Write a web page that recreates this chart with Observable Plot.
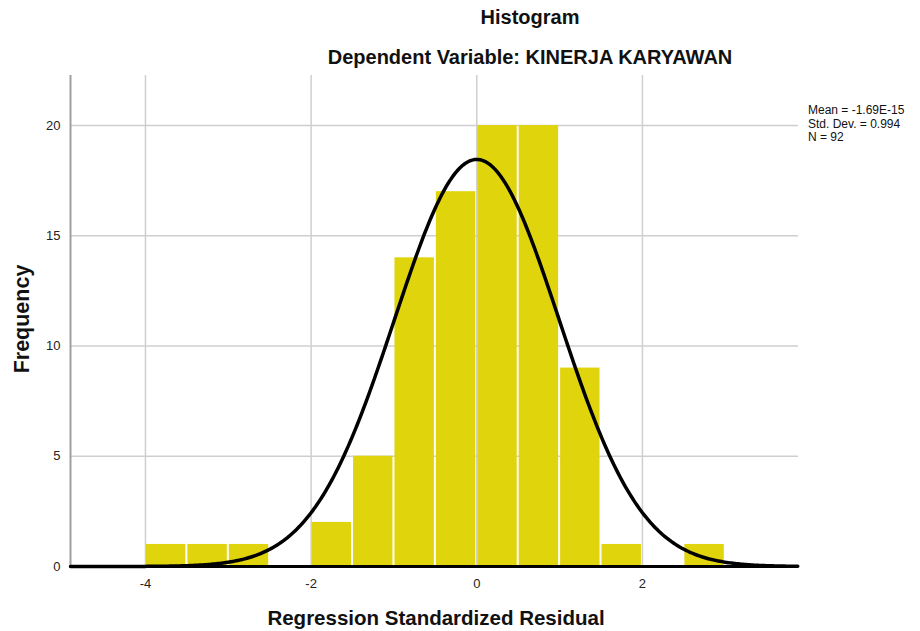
<!DOCTYPE html>
<html>
<head>
<meta charset="utf-8">
<script src="https://cdn.jsdelivr.net/npm/d3@7"></script>
<script src="https://cdn.jsdelivr.net/npm/@observablehq/plot@0.6"></script>
<style>
  body { margin: 0; background: #fff; }
  #wrap { position: relative; width: 920px; height: 631px; font-family: "Liberation Sans", Arial, sans-serif; color: #111; }
  .t { position: absolute; white-space: nowrap; }
</style>
</head>
<body>
<div id="wrap"></div>
<script>
// ---- data ----
const binLo  = [-4, -3.5, -3, -2, -1.5, -1, -0.5, 0, 0.5, 1, 1.5, 2.5];
const binHi  = [-3.5, -3, -2.5, -1.5, -1, -0.5, 0, 0.5, 1, 1.5, 2, 3];
const counts = [1, 1, 1, 2, 5, 14, 17, 20, 20, 9, 1, 1];
const xTicks = [-4, -2, 0, 2];
const xTickLabels = ["-4", "-2", "0", "2"];
const yTicks = [0, 5, 10, 15, 20];
const statMean = -1.69e-15;
const statSD = 0.994;
const statN = 92;
const binWidth = 0.5;
const legendLines = ["Mean = -1.69E-15", "Std. Dev. = 0.994", "N = 92"];
const titleText = "Histogram";
const subtitleText = "Dependent Variable: KINERJA KARYAWAN";
const xLabel = "Regression Standardized Residual";
const yLabel = "Frequency";

const xDomain = [-4.905, 3.884];
const yDomain = [0, 22.27];

const bars = binLo.map((lo, i) => ({lo, hi: binHi[i], n: counts[i]}));
// fitted normal curve from the stated mean, SD and N
const curve = d3.range(xDomain[0], xDomain[1] + 0.001, 0.02).map(x => ({
  x,
  y: statN * binWidth * Math.exp(-0.5 * ((x - statMean) / statSD) ** 2) / (statSD * Math.sqrt(2 * Math.PI))
}));

const chart = Plot.plot({
  width: 920,
  height: 631,
  marginLeft: 70,
  marginRight: 122,
  marginTop: 75,
  marginBottom: 65,
  style: {fontFamily: "'Liberation Sans', Arial, sans-serif", fontSize: "13px", color: "#222", background: "transparent"},
  x: {domain: xDomain, ticks: xTicks, tickSize: 0, tickPadding: 12, label: null,
      tickFormat: d => xTickLabels[xTicks.indexOf(d)]},
  y: {domain: yDomain, ticks: yTicks, tickSize: 0, tickPadding: 10, label: null},
  marks: [
    Plot.gridX(xTicks, {stroke: "#cfcfcf", strokeOpacity: 1, strokeWidth: 1.5}),
    Plot.gridY(yTicks.filter(d => d > 0), {stroke: "#cfcfcf", strokeOpacity: 1, strokeWidth: 1.5}),
    Plot.ruleX([xDomain[0]], {stroke: "#a0a0a0", strokeWidth: 2}),
    Plot.rectY(bars, {x1: "lo", x2: "hi", y: "n", fill: "#e0d40c", insetLeft: 1, insetRight: 1}),
    Plot.line(curve, {x: "x", y: "y", stroke: "#000", strokeWidth: 3.5}),
    Plot.ruleY([0], {stroke: "#000", strokeWidth: 3})
  ]
});

const wrap = document.getElementById("wrap");
wrap.appendChild(chart);

function addText(txt, css) {
  const d = document.createElement("div");
  d.className = "t";
  d.textContent = txt;
  Object.assign(d.style, css);
  wrap.appendChild(d);
  return d;
}
addText(titleText, {left: "530px", top: "6px", transform: "translateX(-50%)", fontSize: "20px", fontWeight: "bold"});
addText(subtitleText, {left: "530px", top: "46px", transform: "translateX(-50%)", fontSize: "20px", fontWeight: "bold"});
addText(xLabel, {left: "436px", top: "606px", transform: "translateX(-50%)", fontSize: "20.5px", fontWeight: "bold"});
addText(yLabel, {left: "22px", top: "319px", transform: "translate(-50%,-50%) rotate(-90deg)", fontSize: "21.5px", fontWeight: "bold"});
legendLines.forEach((s, i) => addText(s, {left: "808px", top: (104 + i * 13.5) + "px", fontSize: "12px", lineHeight: "13px"}));
</script>
</body>
</html>
